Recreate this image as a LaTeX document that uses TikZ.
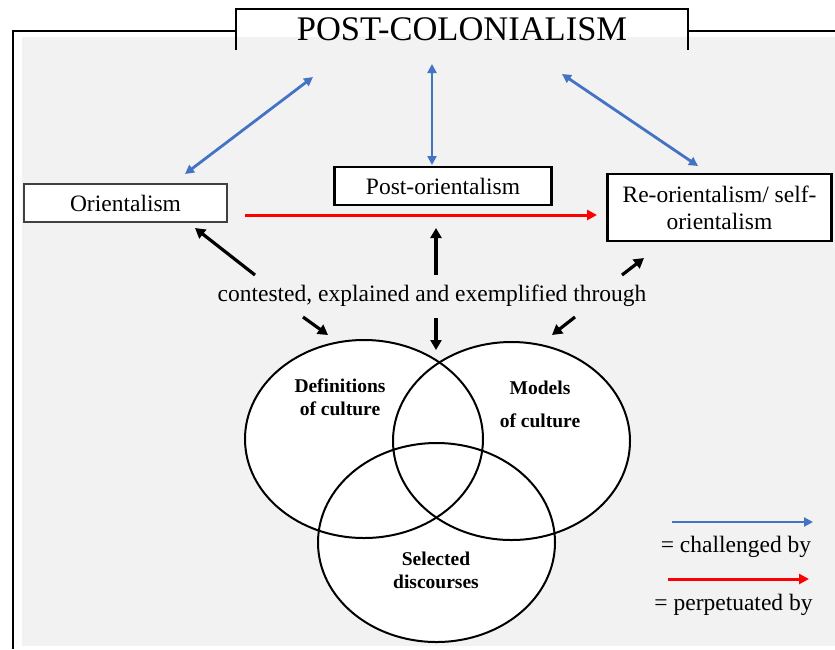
\documentclass[tikz,border=0pt]{standalone}
\usepackage{fontspec}
\setmainfont{Liberation Serif}
\usetikzlibrary{arrows.meta,shapes.geometric}
\definecolor{panelgray}{HTML}{F2F2F2}
\definecolor{chblue}{HTML}{4472C4}
\definecolor{pred}{HTML}{FF0000}
\definecolor{boxedge}{HTML}{404040}

\begin{document}
\begin{tikzpicture}[x=1pt,y=-1pt,
  frame/.style={line width=2pt, black},
  conceptbox/.style={draw, fill=white, line width=2.2pt, inner sep=0pt,
    align=center, font=\fontsize{23.5}{27}\selectfont},
  bluearrow/.style={draw=chblue, line width=2.8pt,
    {Triangle[length=9pt,width=9pt]}-{Triangle[length=9pt,width=9pt]}},
  bluelegend/.style={draw=chblue, line width=2.8pt, -{Triangle[length=9pt,width=9pt]}},
  redarrow/.style={draw=pred, line width=3pt, -{Triangle[length=10pt,width=10pt]}},
  blackarrow/.style={draw=black, line width=3.2pt, -{Triangle[length=10pt,width=11pt]}},
  venn/.style={ellipse, draw, line width=2pt, inner sep=0pt,
    minimum width=238pt, minimum height=198pt},
  vennlabel/.style={font=\bfseries\fontsize{19.5}{23}\selectfont, align=center, inner sep=0pt},
  plain/.style={font=\fontsize{23.5}{26}\selectfont, inner sep=0pt}
]
\useasboundingbox (0,0) rectangle (835,649);

% grey panel and the outer frame with its raised title tab
\fill[panelgray] (22,37) rectangle (835,646);
\draw[frame] (13,649) -- (13,31) -- (236,31);
\draw[frame] (688,31) -- (835,31);
\draw[frame] (236,50) -- (236,9) -- (688,9) -- (688,50);
\node[font=\fontsize{34.5}{38}\selectfont, inner sep=0pt] (title) at (462,29) {POST-COLONIALISM};

% the three concepts
\node[conceptbox, draw=boxedge, line width=1.6pt, minimum width=203pt, minimum height=38pt]
  (orient) at (125.5,203) {Orientalism};
\node[conceptbox, minimum width=217pt, minimum height=38pt]
  (postor) at (443,186) {Post-orientalism};
\node[conceptbox, minimum width=224pt, minimum height=67pt]
  (reor) at (719.5,207.5) {Re-orientalism/ self-\\orientalism};

% challenged-by links to the title
\coordinate (bo1) at (185,174);  \coordinate (bt1) at (313,77);
\coordinate (bo2) at (432,165);  \coordinate (bt2) at (432,64);
\coordinate (bo3) at (698,166);  \coordinate (bt3) at (562,74);
\draw[bluearrow] (bo1) -- (bt1);
\draw[bluearrow] (bo2) -- (bt2);
\draw[bluearrow] (bo3) -- (bt3);

% perpetuated-by link
\coordinate (ra) at (245,215);  \coordinate (rb) at (597,215);
\draw[redarrow] (ra) -- (rb);

% central phrase
\node[plain] (through) at (432,296) {contested, explained and exemplified through};

% phrase up to the concepts
\coordinate (u1a) at (255,275);  \coordinate (u1b) at (195,228);
\coordinate (u2a) at (436,275);  \coordinate (u2b) at (436,228);
\coordinate (u3a) at (622,275);  \coordinate (u3b) at (644,258);
\draw[blackarrow] (u1a) -- (u1b);
\draw[blackarrow] (u2a) -- (u2b);
\draw[blackarrow] (u3a) -- (u3b);

% phrase down to the Venn diagram
\coordinate (d1a) at (303,317);  \coordinate (d1b) at (328,335);
\coordinate (d2a) at (436,318);  \coordinate (d2b) at (436,350);
\coordinate (d3a) at (575,317);  \coordinate (d3b) at (552,335);
\draw[blackarrow] (d1a) -- (d1b);
\draw[blackarrow] (d2a) -- (d2b);
\draw[blackarrow] (d3a) -- (d3b);

% Venn diagram: white fills first, outlines on top
\fill[white] (364,439) ellipse [x radius=119, y radius=99];
\fill[white] (511.5,441) ellipse [x radius=118.5, y radius=99];
\fill[white] (436.5,542.5) ellipse [x radius=118.5, y radius=99.5];
\node[venn] (defs) at (364,439) {};
\node[venn, minimum width=237pt] (models) at (511.5,441) {};
\node[venn, minimum width=237pt, minimum height=199pt] (disc) at (436.5,542.5) {};

\node[vennlabel] (defslbl) at (340,397.5) {Definitions\\of culture};
\node[vennlabel] (modlbl1) at (540,388) {Models};
\node[vennlabel] (modlbl2) at (540,421) {of culture};
\node[vennlabel] (disclbl) at (436,570) {Selected\\discourses};

% legend
\coordinate (lb1) at (672,522);  \coordinate (lb2) at (813,522);
\draw[bluelegend] (lb1) -- (lb2);
\node[plain] (legblue) at (736,547) {= challenged by};
\coordinate (lr1) at (668,579);  \coordinate (lr2) at (809,579);
\draw[redarrow] (lr1) -- (lr2);
\node[plain] (legred) at (733.5,605) {= perpetuated by};
\end{tikzpicture}
\end{document}
